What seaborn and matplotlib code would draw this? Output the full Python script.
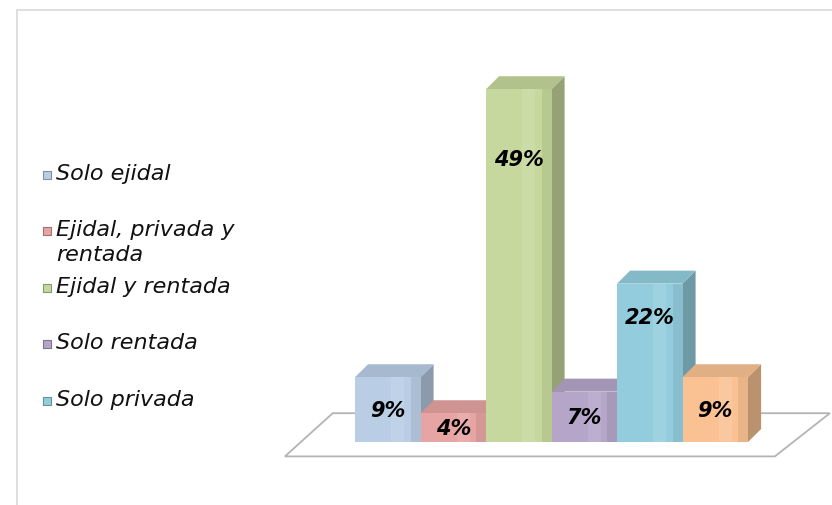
import numpy as np
import pandas as pd
import seaborn as sns
import matplotlib.pyplot as plt
from matplotlib.patches import Polygon, Rectangle
from matplotlib.colors import to_rgb

# tenencia de la tierra
categorias = ["Solo ejidal", "Ejidal, privada y rentada", "Ejidal y rentada",
              "Solo rentada", "Solo privada", "Ejidal y privada"]
leyenda = ["Solo ejidal", "Ejidal, privada y\nrentada", "Ejidal y rentada",
           "Solo rentada", "Solo privada"]
porcentajes = [9, 4, 49, 7, 22, 9]
colores = ["#b9cde5", "#e6a4a2", "#c6d89d", "#b4a5c9", "#93cddd", "#fac293"]

df = pd.DataFrame({"tipo": categorias, "pct": porcentajes})

sns.set_theme(style="white")
plt.rcParams['font.family'] = ['DejaVu Sans']

fig = plt.figure(figsize=(8.32, 5.06), dpi=100)
W, H = 832, 506

# frame of the chart area
fig.patches.append(Rectangle((17 / W, -0.1), 1.0, (H - 11) / H + 0.1, transform=fig.transFigure,
                             fill=False, edgecolor="#d9d9d9", linewidth=1.2, zorder=0))

# axes placed so that one category = ~65 px and 1% = ~7.2 px
xlim = (-1.8, 6.75)
ylim = (-3, 52)
x0 = 387.75 + xlim[0] * 65.5
x1 = 387.75 + xlim[1] * 65.5
ytop = 443 - ylim[1] * 7.2
ybot = 443 - ylim[0] * 7.2
ax = fig.add_axes([x0 / W, 1 - ybot / H, (x1 - x0) / W, (ybot - ytop) / H])

sns.barplot(data=df, x="tipo", y="pct", hue="tipo", palette=colores, width=1.0,
            legend=False, ax=ax, saturation=1, edgecolor="none", zorder=3)
ax.set_xlim(*xlim)
ax.set_ylim(*ylim)
ax.axis("off")

dx, dy = 0.2, 1.8  # depth offset in data units

# floor
floor = Polygon([(-1.57, -2.0), (5.91, -2.0), (6.75, 4.0), (-0.84, 4.0)], closed=True,
                fill=False, edgecolor="#b4b4b4", linewidth=1.3, clip_on=False, zorder=1)
ax.add_patch(floor)


def shade(c, f):
    r, g, b = to_rgb(c)
    if f < 1:
        return (r * f, g * f, b * f)
    return (r + (1 - r) * (f - 1), g + (1 - g) * (f - 1), b + (1 - b) * (f - 1))


bars = sorted([p for p in ax.patches if isinstance(p, Rectangle)], key=lambda p: p.get_x())
label_y = {49: 39.3, 22: 17.4}
for i, (bar, c, v) in enumerate(zip(bars, colores, porcentajes)):
    x, w, h = bar.get_x(), bar.get_width(), bar.get_height()
    z = 3 + i * 0.1
    bar.set_zorder(z + 0.02)
    side = Polygon([(x + w, 0), (x + w + dx, dy), (x + w + dx, h + dy), (x + w, h)],
                   closed=True, facecolor=shade(c, 0.75), edgecolor="none", zorder=z, clip_on=False)
    top = Polygon([(x, h), (x + dx, h + dy), (x + w + dx, h + dy), (x + w, h)],
                  closed=True, facecolor=shade(c, 0.9), edgecolor="none", zorder=z + 0.01, clip_on=False)
    ax.add_patch(side)
    ax.add_patch(top)
    # soft highlight on the front face
    ax.add_patch(Rectangle((x + w * 0.55, 0), w * 0.2, h, facecolor=shade(c, 1.18),
                           edgecolor="none", alpha=0.6, zorder=z + 0.03))
    ax.add_patch(Rectangle((x + w * 0.85, 0), w * 0.15, h, facecolor=shade(c, 0.9),
                           edgecolor="none", alpha=0.7, zorder=z + 0.03))
    ly = label_y.get(v, h / 2)
    ax.text(x + w / 2, ly, f"{v}%", ha="center", va="center", fontsize=15,
            fontweight="bold", fontstyle="italic", color="black", zorder=10)

# legend drawn as in the original (equal slots, text flows down)
slots = [176, 232, 289, 345, 402]
for lab, c, yy in zip(leyenda, colores, slots):
    fig.patches.append(Rectangle((43 / W, 1 - (yy + 4) / H), 8 / W, 8 / H, transform=fig.transFigure,
                                 facecolor=c, edgecolor=shade(c, 0.7), linewidth=0.8))
    fig.text(56 / W, 1 - (yy - 12) / H, lab, ha="left", va="top", fontsize=16,
             fontstyle="italic", color="#111111", linespacing=1.3)

fig.savefig("out.png", dpi=100, facecolor="white")
